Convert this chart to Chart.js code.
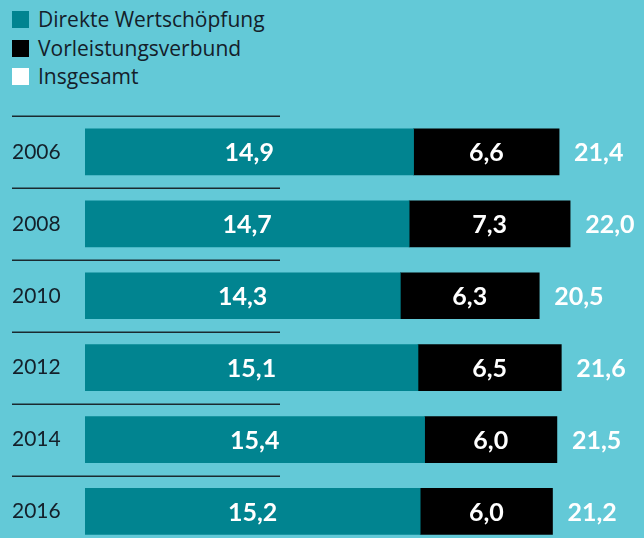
<!DOCTYPE html>
<html><head><meta charset="utf-8">
<script src="https://cdn.jsdelivr.net/npm/chart.js@4"></script>
<style>
html,body{margin:0;padding:0;background:#63c9d7;overflow:hidden;width:644px;height:538px;}
#wrap{position:absolute;left:0;top:0;width:644px;height:560px;}
.leg{position:absolute;left:12px;font-family:'Open Sans',sans-serif;font-size:21px;color:#14202a;line-height:28px;}
.leg div{position:relative;padding-left:26px;height:28.5px;}
.leg span{position:absolute;left:0;top:6px;width:17px;height:17px;}
</style></head><body>
<div class="leg" style="top:5px">
 <div><span style="background:#018490"></span>Direkte Wertschöpfung</div>
 <div><span style="background:#000"></span>Vorleistungsverbund</div>
 <div><span style="background:#fff"></span>Insgesamt</div>
</div>
<div id="wrap"><canvas id="c" width="644" height="560"></canvas></div>
<script>
const years = ['2006','2008','2010','2012','2014','2016'];
const direkte = [14.9,14.7,14.3,15.1,15.4,15.2];
const vorleistung = [6.6,7.3,6.3,6.5,6.0,6.0];
const insgesamt = [21.4,22.0,20.5,21.6,21.5,21.2];

const fmt = v => v.toFixed(1).replace('.',',');
const FONT = 'Lato, sans-serif';

const labelPlugin = {
  id:'labels',
  afterDatasetsDraw(chart){
    const ctx = chart.ctx;
    const y = chart.scales.y;
    const step = y.getPixelForValue(1) - y.getPixelForValue(0);
    ctx.save();
    ctx.strokeStyle = '#1a2a30';
    ctx.lineWidth = 1.5;
    years.forEach((_,i)=>{
      const py = Math.round(y.getPixelForValue(i) - step/2) + 0.25;
      ctx.beginPath(); ctx.moveTo(12,py); ctx.lineTo(280,py); ctx.stroke();
    });
    ctx.fillStyle = '#fff';
    ctx.font = 'bold 25px ' + FONT;
    ctx.textBaseline = 'middle';
    chart.data.datasets.forEach((ds,di)=>{
      const meta = chart.getDatasetMeta(di);
      meta.data.forEach((bar,i)=>{
        const cx = (bar.x + bar.base)/2;
        ctx.textAlign = 'center';
        ctx.fillText(fmt(ds.data[i]), cx, bar.y+1);
        if(di===1){
          ctx.textAlign='left';
          ctx.fillText(fmt(insgesamt[i]), bar.x+15, bar.y+1);
        }
      });
    });
    ctx.restore();
  }
};

const chart = new Chart(document.getElementById('c'),{
  type:'bar',
  data:{labels:years,datasets:[
    {label:'Direkte Wertschöpfung',data:direkte,backgroundColor:'#018490',barThickness:46},
    {label:'Vorleistungsverbund',data:vorleistung,backgroundColor:'#000000',barThickness:46}
  ]},
  options:{
    indexAxis:'y',responsive:false,animation:false,
    layout:{padding:{left:12,top:116,right:0,bottom:0}},
    plugins:{legend:{display:false},tooltip:{enabled:false}},
    scales:{
      x:{stacked:true,display:false,min:0,max:25.35},
      y:{stacked:true,grid:{display:false},border:{display:false},
         ticks:{crossAlign:'far',color:'#14202a',font:{family:FONT,size:21},padding:0},
         afterFit(s){s.width=73;}}
    }
  },
  plugins:[labelPlugin]
});
</script>
</body></html>
